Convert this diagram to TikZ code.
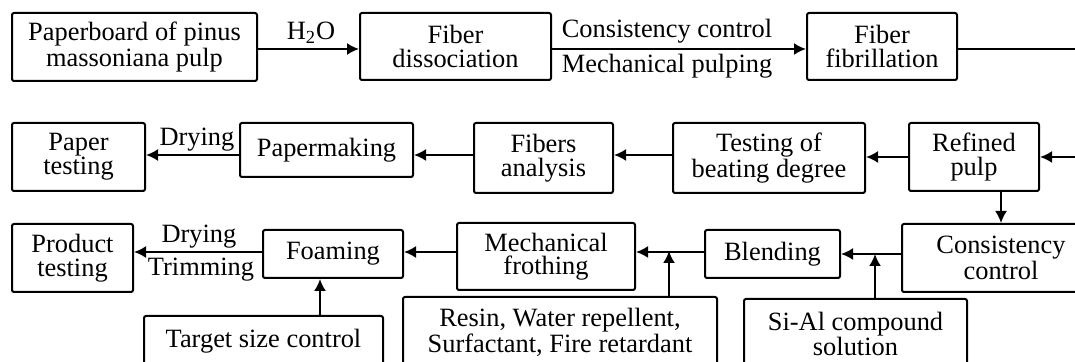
\documentclass[tikz,border=0pt]{standalone}
\usepackage{fontspec}
\setmainfont{Liberation Serif}
\usetikzlibrary{calc,positioning,arrows.meta}

\begin{document}
\begin{tikzpicture}[x=0.5pt,y=-0.5pt,
	box/.style={draw,line width=1pt,rounded corners=1pt,align=center,inner sep=0pt,font=\fontsize{13.2}{11.8}\selectfont},
	arr/.style={line width=1pt,-{Latex[length=6pt,width=6pt]}},
	lab/.style={inner sep=0pt,font=\fontsize{13.2}{11.8}\selectfont}]
	\useasboundingbox (0,0) rectangle (1075,362);
	\clip (0,0) rectangle (1075,362);
	% rows of arrows
	\coordinate (r1) at (0,49);
	\coordinate (r2) at (0,155);
	\coordinate (r3) at (0,252);
	% first row
	\node[box,minimum width=122.5pt,minimum height=34pt] (pulp) at (134.5,47) {Paperboard of pinus\\massoniana pulp};
	\node[box,minimum width=95.5pt,minimum height=33.5pt] (dissoc) at (455.5,46.5) {Fiber\\dissociation};
	\node[box,minimum width=75pt,minimum height=33.5pt] (fibril) at (882,46.5) {Fiber\\fibrillation};
	% second row
	\node[box,minimum width=66.5pt,minimum height=34pt] (ptest) at (78.5,157) {Paper\\testing};
	\node[box,minimum width=86.5pt,minimum height=27pt] (making) at (326.5,150) {Papermaking};
	\node[box,minimum width=69.5pt,minimum height=35pt] (analysis) at (543.5,158) {Fibers\\analysis};
	\node[box,minimum width=96pt,minimum height=35pt] (beating) at (769,158) {Testing of\\beating degree};
	\node[box,minimum width=65pt,minimum height=34pt] (refined) at (974,157) {Refined\\pulp};
	% third row
	\node[box,minimum width=60.5pt,minimum height=34pt] (ptest2) at (72.5,258) {Product\\testing};
	\node[box,minimum width=70pt,minimum height=24pt] (foam) at (333,254) {Foaming};
	\node[box,minimum width=89pt,minimum height=33.5pt] (froth) at (546,256.5) {Mechanical\\frothing};
	\node[box,minimum width=67.5pt,minimum height=24pt] (blend) at (772.5,254) {Blending};
	\node[box,minimum width=99pt,minimum height=34pt] (consist) at (1001,258) {Consistency\\control};
	% fourth row
	\node[box,minimum width=119.5pt,minimum height=25pt] (target) at (263.5,341) {Target size control};
	\node[box,minimum width=157pt,minimum height=35pt] (additive) at (560,332) {Resin, Water repellent,\\Surfactant, Fire retardant};
	\node[box,minimum width=111.5pt,minimum height=35pt] (sial) at (855.5,334) {Si-Al compound\\solution};
	% joints
	\coordinate (turn) at (1090,49);
	\coordinate (j1) at (669,251);
	\coordinate (j2) at (875,254);
	\coordinate (j3) at (320,0);
	% arrows
	\draw[arr] (pulp.east |- r1) -- (dissoc.west |- r1);
	\draw[arr] (dissoc.east |- r1) -- (fibril.west |- r1);
	\draw[arr] (fibril.east |- r1) -- (turn) |- (refined.east);
	\draw[arr] (refined.west) -- (beating.east |- refined.west);
	\draw[arr] (beating.west |- r2) -- (analysis.east |- r2);
	\draw[arr] (analysis.west |- r2) -- (making.east |- r2);
	\draw[arr] (making.west |- r2) -- (ptest.east |- r2);
	\draw[arr] (refined.south -| consist.north) -- (consist.north);
	\draw[arr] (consist.west |- j2) -- (blend.east |- j2);
	\draw[arr] (blend.west |- r3) -- (froth.east |- r3);
	\draw[arr] (froth.west |- r3) -- (foam.east |- r3);
	\draw[arr] (foam.west |- r3) -- (ptest2.east |- r3);
	\draw[arr] (additive.north -| j1) -- (j1);
	\draw[arr] (sial.north -| j2) -- (j2);
	\draw[arr] (target.north -| j3) -- (foam.south -| j3);
	% labels
	\node[lab] (water) at (311,33) {H\textsubscript{2}O};
	\node[lab] (cc) at (667,31) {Consistency control};
	\node[lab] (mp) at (667,66) {Mechanical pulping};
	\node[lab] (dry1) at (197,140) {Drying};
	\node[lab] (dry2) at (199,237) {Drying};
	\node[lab] (trim) at (201,270) {Trimming};
\end{tikzpicture}
\end{document}
